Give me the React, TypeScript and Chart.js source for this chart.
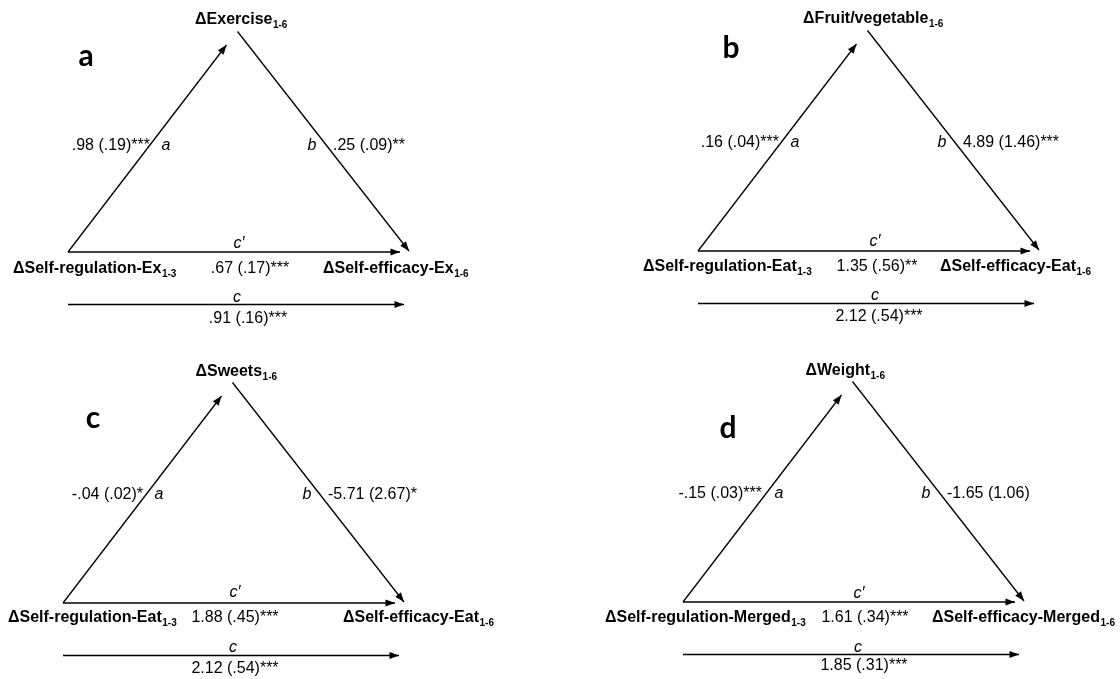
import React, { useEffect, useRef } from "react";
import { Chart, registerables } from "chart.js";

Chart.register(...registerables);

// ---------- data (text content of the four mediation models) ----------
const panelLetters = ["a", "b", "c", "d"];
const mediators = ["ΔExercise", "ΔFruit/vegetable", "ΔSweets", "ΔWeight"];
const predictors = ["ΔSelf-regulation-Ex", "ΔSelf-regulation-Eat", "ΔSelf-regulation-Eat", "ΔSelf-regulation-Merged"];
const outcomes = ["ΔSelf-efficacy-Ex", "ΔSelf-efficacy-Eat", "ΔSelf-efficacy-Eat", "ΔSelf-efficacy-Merged"];
const mediatorSub = "1-6";
const predictorSub = "1-3";
const outcomeSub = "1-6";
const pathA = [".98 (.19)***", ".16 (.04)***", "-.04 (.02)*", "-.15 (.03)***"];
const pathB = [".25 (.09)**", "4.89 (1.46)***", "-5.71 (2.67)*", "-1.65 (1.06)"];
const pathCPrime = [".67 (.17)***", "1.35 (.56)**", "1.88 (.45)***", "1.61 (.34)***"];
const pathC = [".91 (.16)***", "2.12 (.54)***", "2.12 (.54)***", "1.85 (.31)***"];
const pathNames = ["a", "b", "c′", "c"];

// ---------- layout (diagram coordinates, drawn through the chart scales) ----------
const W = 1120;
const H = 679;
const origins = [
  [68, 252],
  [698, 251],
  [63, 603],
  [683, 602],
];
// triangle template, relative to the bottom-left vertex
const tplA = [[0, 0], [158.5, -207]];
const tplB = [[169.5, -220.5], [341, -1]];
const tplCp = [[0, 0], [332, 0]];
const tplC = [[0, 52.5], [336, 52.5]];

type P = [number, number];
const textLayout: Record<string, P>[] = [
  { letter: [86, 66], med: [241, 24], aVal: [150, 150], aSym: [166, 150], bSym: [312, 150], bVal: [333, 150], cpSym: [239, 248], pred: [13, 273], cpVal: [250, 273], out: [323, 273], cSym: [237, 302], cVal: [248, 323] },
  { letter: [731, 58], med: [873, 23], aVal: [779, 147], aSym: [795, 147], bSym: [942, 147], bVal: [963, 147], cpSym: [875, 246], pred: [643, 271], cpVal: [877, 271], out: [940, 271], cSym: [875, 300], cVal: [879, 321] },
  { letter: [93, 428], med: [236, 376], aVal: [143, 499], aSym: [159, 499], bSym: [307, 499], bVal: [328, 499], cpSym: [235, 597], pred: [8, 622], cpVal: [235, 622], out: [343, 622], cSym: [233, 652], cVal: [235, 673] },
  { letter: [728, 438], med: [845, 375], aVal: [762, 498], aSym: [779, 498], bSym: [926, 498], bVal: [947, 498], cpSym: [859, 598], pred: [605, 622], cpVal: [865, 622], out: [932, 622], cSym: [858, 652], cVal: [864, 670] },
];

const FONT = "'Liberation Sans', Arial, Helvetica, sans-serif";

function seg(o: number[], t: number[][]) {
  return t.map(([dx, dy]) => ({ x: o[0] + dx, y: o[1] + dy }));
}

function buildDatasets() {
  const ds: any[] = [];
  origins.forEach((o) => {
    [tplA, tplB, tplCp, tplC].forEach((t) => {
      ds.push({
        data: seg(o, t),
        showLine: true,
        borderColor: "#000",
        borderWidth: 1.3,
        pointRadius: 0,
        pointHoverRadius: 0,
        fill: false,
      });
    });
  });
  return ds;
}

function drawSubLabel(ctx: CanvasRenderingContext2D, main: string, sub: string, x: number, y: number, align: "left" | "center") {
  ctx.font = `bold 16px ${FONT}`;
  const w1 = ctx.measureText(main).width;
  ctx.font = `bold 10px ${FONT}`;
  const w2 = ctx.measureText(sub).width;
  const total = w1 + w2;
  const x0 = align === "center" ? x - total / 2 : x;
  ctx.textAlign = "left";
  ctx.textBaseline = "alphabetic";
  ctx.font = `bold 16px ${FONT}`;
  ctx.fillText(main, x0, y);
  ctx.font = `bold 10px ${FONT}`;
  ctx.fillText(sub, x0 + w1 + 0.5, y + 3.5);
}

const diagramPlugin = {
  id: "mediationDiagram",
  afterDatasetsDraw(chart: any) {
    const ctx: CanvasRenderingContext2D = chart.ctx;
    const xs = chart.scales.x;
    const ys = chart.scales.y;
    const px = (v: number) => xs.getPixelForValue(v);
    const py = (v: number) => ys.getPixelForValue(v);

    ctx.save();
    // arrowheads at the end of each path
    chart.data.datasets.forEach((_: any, i: number) => {
      const meta = chart.getDatasetMeta(i);
      const p0 = meta.data[0];
      const p1 = meta.data[1];
      const ang = Math.atan2(p1.y - p0.y, p1.x - p0.x);
      ctx.save();
      ctx.translate(p1.x, p1.y);
      ctx.rotate(ang);
      ctx.beginPath();
      ctx.moveTo(0, 0);
      ctx.lineTo(-9.5, -3.6);
      ctx.lineTo(-9.5, 3.6);
      ctx.closePath();
      ctx.fillStyle = "#000";
      ctx.fill();
      ctx.restore();
    });

    ctx.fillStyle = "#000";
    textLayout.forEach((L, i) => {
      // panel letter
      ctx.font = `bold 30px Lato, 'Open Sans', sans-serif`;
      ctx.textAlign = "center";
      ctx.textBaseline = "alphabetic";
      ctx.fillText(panelLetters[i], px(L.letter[0]), py(L.letter[1]));

      // node labels
      drawSubLabel(ctx, mediators[i], mediatorSub, px(L.med[0]), py(L.med[1]), "center");
      drawSubLabel(ctx, predictors[i], predictorSub, px(L.pred[0]), py(L.pred[1]), "left");
      drawSubLabel(ctx, outcomes[i], outcomeSub, px(L.out[0]), py(L.out[1]), "left");

      // coefficients
      ctx.font = `16px ${FONT}`;
      ctx.textAlign = "right";
      ctx.fillText(pathA[i], px(L.aVal[0]), py(L.aVal[1]));
      ctx.textAlign = "left";
      ctx.fillText(pathB[i], px(L.bVal[0]), py(L.bVal[1]));
      ctx.textAlign = "center";
      ctx.fillText(pathCPrime[i], px(L.cpVal[0]), py(L.cpVal[1]));
      ctx.fillText(pathC[i], px(L.cVal[0]), py(L.cVal[1]));

      // path names
      ctx.font = `italic 16px ${FONT}`;
      ctx.textAlign = "center";
      ctx.fillText(pathNames[0], px(L.aSym[0]), py(L.aSym[1]));
      ctx.fillText(pathNames[1], px(L.bSym[0]), py(L.bSym[1]));
      ctx.fillText(pathNames[2], px(L.cpSym[0]), py(L.cpSym[1]));
      ctx.fillText(pathNames[3], px(L.cSym[0]), py(L.cSym[1]));
    });
    ctx.restore();
  },
};

export default function App() {
  const ref = useRef<HTMLCanvasElement | null>(null);

  useEffect(() => {
    document.body.style.margin = "0";
    document.body.style.background = "#fff";
    if (!ref.current) return;
    const chart = new Chart(ref.current, {
      type: "scatter",
      data: { datasets: buildDatasets() },
      options: {
        responsive: false,
        animation: false,
        events: [],
        layout: { padding: 0 },
        plugins: {
          legend: { display: false },
          tooltip: { enabled: false },
        },
        scales: {
          x: { type: "linear", min: 0, max: W, display: false },
          y: { type: "linear", min: 0, max: H, reverse: true, display: false },
        },
      },
      plugins: [diagramPlugin],
    });
    return () => chart.destroy();
  }, []);

  return (
    <div style={{ position: "absolute", left: 0, top: 0, width: W, height: H, background: "#fff" }}>
      <canvas ref={ref} width={W} height={H} style={{ display: "block" }} />
    </div>
  );
}
